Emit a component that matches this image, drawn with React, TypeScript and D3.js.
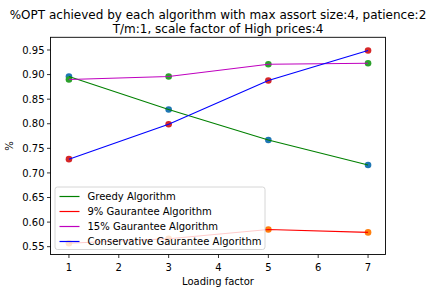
import React from 'react'
import * as d3 from 'd3'

// chart data
const loadingFactors = [1, 3, 5, 7]
const seriesNames = [
  'Greedy Algorithm',
  '9% Gaurantee Algorithm',
  '15% Gaurantee Algorithm',
  'Conservative Gaurantee Algorithm',
]
const greedyVals = [0.896, 0.829, 0.767, 0.716]
const g9Vals = [0.557, 0.566, 0.585, 0.579]
const g15Vals = [0.890, 0.896, 0.921, 0.923]
const conservativeVals = [0.728, 0.799, 0.888, 0.949]
const xTicks = [1, 2, 3, 4, 5, 6, 7]
const yTicks = [0.55, 0.6, 0.65, 0.7, 0.75, 0.8, 0.85, 0.9, 0.95]

const lineColors = ['#008000', '#ff0000', '#bf00bf', '#0000ff']
const dotColors = ['#1f77b4', '#ff7f0e', '#2ca02c', '#d62728']

const W = 434
const H = 293
const left = 50.5
const right = 385.5
const top = 37.3
const bottom = 254.5

const App = () => {
  const allVals = [greedyVals, g9Vals, g15Vals, conservativeVals]

  const x = d3.scaleLinear().domain([0.63, 7.35]).range([left, right])
  const y = d3.scaleLinear().domain([0.5341, 0.9758]).range([bottom, top])

  const pathFor = d3
    .line<number>()
    .x((v, i) => x(loadingFactors[i]))
    .y((v) => y(v))

  const font = 'DejaVu Sans, sans-serif'
  const legX = 55
  const legY = 187
  const rowH = 15

  return (
    <svg
      width={W}
      height={H}
      style={{ position: 'absolute', left: 0, top: 0, background: '#fff' }}
      fontFamily={font}
    >
      <rect width={W} height={H} fill="#fff" />

      {/* title */}
      <text x={(left + right) / 2} y={19} fontSize={12} textAnchor="middle" fill="#000">
        %OPT achieved by each algorithm with max assort size:4, patience:2
      </text>
      <text x={(left + right) / 2} y={33} fontSize={12} textAnchor="middle" fill="#000">
        T/m:1, scale factor of High prices:4
      </text>

      {/* scatter points go under the lines like matplotlib */}
      {allVals.map((vals, s) =>
        vals.map((v, i) => (
          <circle key={`d${s}-${i}`} cx={x(loadingFactors[i])} cy={y(v)} r={3.3} fill={dotColors[s]} />
        ))
      )}

      {allVals.map((vals, s) => (
        <path key={`l${s}`} d={pathFor(vals) || ''} fill="none" stroke={lineColors[s]} strokeWidth={1.1} />
      ))}

      {/* axes frame */}
      <rect x={left} y={top} width={right - left} height={bottom - top} fill="none" stroke="#000" strokeWidth={0.9} />

      {xTicks.map((t) => (
        <g key={`xt${t}`}>
          <line x1={x(t)} x2={x(t)} y1={bottom} y2={bottom + 3.5} stroke="#000" strokeWidth={0.8} />
          <text x={x(t)} y={bottom + 16} fontSize={10} textAnchor="middle" fill="#000">
            {t}
          </text>
        </g>
      ))}
      {yTicks.map((t) => (
        <g key={`yt${t}`}>
          <line x1={left - 3.5} x2={left} y1={y(t)} y2={y(t)} stroke="#000" strokeWidth={0.8} />
          <text x={left - 6} y={y(t) + 3.6} fontSize={10} textAnchor="end" fill="#000">
            {t.toFixed(2)}
          </text>
        </g>
      ))}

      <text x={(left + right) / 2} y={285} fontSize={10} textAnchor="middle" fill="#000">
        Loading factor
      </text>
      <text
        transform={`translate(13,${(top + bottom) / 2}) rotate(-90)`}
        fontSize={10}
        textAnchor="middle"
        fill="#000"
      >
        %
      </text>

      {/* legend */}
      <rect x={legX} y={legY} width={210} height={62.5} rx={2.5} fill="#fff" fillOpacity={0.8} stroke="#cccccc" strokeWidth={0.8} />
      {seriesNames.map((name, i) => (
        <g key={`lg${i}`}>
          <line
            x1={legX + 4.5}
            x2={legX + 24.5}
            y1={legY + 9.5 + i * rowH}
            y2={legY + 9.5 + i * rowH}
            stroke={lineColors[i]}
            strokeWidth={1.2}
          />
          <text x={legX + 32.5} y={legY + 13 + i * rowH} fontSize={10} fill="#000">
            {name}
          </text>
        </g>
      ))}
    </svg>
  )
}

export default App
